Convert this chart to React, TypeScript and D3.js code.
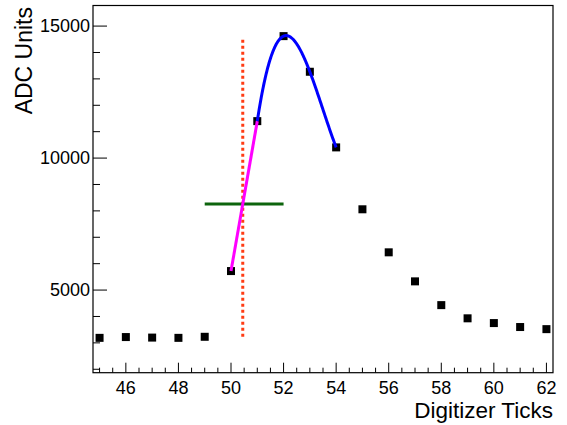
import React from "react";
import * as d3 from "d3";

const ticks = [45, 46, 47, 48, 49, 50, 51, 52, 53, 54, 55, 56, 57, 58, 59, 60, 61, 62];
const adc = [3190, 3220, 3200, 3190, 3230, 5720, 11400, 14620, 13270, 10405, 8060, 6430, 5330, 4430, 3930, 3750, 3600, 3520];
const fitTicks = [51, 52, 53, 54];
const riseTicks = [50, 51];
const halfLevel = 8260;
const halfSpan = [49, 52];
const markerLine = [3230, 14500];
const xTickLabels = [46, 48, 50, 52, 54, 56, 58, 60, 62];
const yTickLabels = [5000, 10000, 15000];

const W = 567, H = 425;
const L = 93, R = 553, T = 5.5, B = 372.7;
const FONT = "'Liberation Sans', Arial, Helvetica, sans-serif";

export default function App() {
  const x = d3.scaleLinear().domain([44.75, 62.25]).range([L, R]);
  const y = d3.scaleLinear().domain([1870, 15780]).range([B, T]);
  const val = (t: number) => adc[ticks.indexOf(t)];

  // cubic interpolation through fit points (Newton form)
  const fy = fitTicks.map(val);
  const d1 = [fy[1] - fy[0], fy[2] - fy[1], fy[3] - fy[2]];
  const d2 = [d1[1] - d1[0], d1[2] - d1[1]];
  const d3v = d2[1] - d2[0];
  const cubic = (xx: number) => {
    const t = xx - fitTicks[0];
    return fy[0] + d1[0] * t + (d2[0] / 2) * t * (t - 1) + (d3v / 6) * t * (t - 1) * (t - 2);
  };
  const fitPts: [number, number][] = d3.range(0, 301).map((i) => {
    const xx = fitTicks[0] + (i / 300) * (fitTicks[3] - fitTicks[0]);
    return [xx, cubic(xx)];
  });
  const line = d3.line<[number, number]>().x((d) => x(d[0])).y((d) => y(d[1])).curve(d3.curveLinear);

  const r0 = val(riseTicks[0]), r1 = val(riseTicks[1]);
  const crossX = riseTicks[0] + (halfLevel - r0) / (r1 - r0);

  const xMinor = d3.range(45, 62.01, 0.5);
  const yMinor = d3.range(2000, 15001, 1000);

  return (
    <svg width={W} height={H} style={{ position: "absolute", left: 0, top: 0, background: "#fff" }}>
      <rect x={0} y={0} width={W} height={H} fill="#fff" />
      {/* ticks */}
      {xMinor.map((v) => {
        const major = xTickLabels.includes(v);
        return <line key={"xt" + v} x1={x(v)} x2={x(v)} y1={B} y2={B - (major ? 10 : 5)} stroke="#000" strokeWidth={1} />;
      })}
      {yMinor.map((v) => {
        const major = yTickLabels.includes(v);
        return <line key={"yt" + v} x1={L} x2={L + (major ? 14 : 7)} y1={y(v)} y2={y(v)} stroke="#000" strokeWidth={1} />;
      })}
      {/* frame */}
      <rect x={L} y={T} width={R - L} height={B - T} fill="none" stroke="#000" strokeWidth={1.2} />
      {/* tick labels */}
      {xTickLabels.map((v) => (
        <text key={"xl" + v} x={x(v)} y={393.5} textAnchor="middle" fontFamily={FONT} fontSize={18} fill="#000">{v}</text>
      ))}
      {yTickLabels.map((v) => (
        <text key={"yl" + v} x={90} y={y(v) + 6.3} textAnchor="end" fontFamily={FONT} fontSize={18} fill="#000">{v}</text>
      ))}
      {/* axis titles */}
      <text x={R} y={418} textAnchor="end" fontFamily={FONT} fontSize={22.5} fill="#000">Digitizer Ticks</text>
      <text transform={`translate(31.5,7) rotate(-90)`} textAnchor="end" fontFamily={FONT} fontSize={23} fill="#000">ADC Units</text>
      {/* markers */}
      {ticks.map((t, i) => (
        <rect key={"m" + t} x={x(t) - 4} y={y(adc[i]) - 4} width={8} height={8} fill="#000" />
      ))}
      {/* red dotted vertical */}
      <line x1={x(crossX)} x2={x(crossX)} y1={y(markerLine[0])} y2={y(markerLine[1])} stroke="#ff3c14" strokeWidth={3} strokeDasharray="3,3" />
      {/* green half-level */}
      <line x1={x(halfSpan[0])} x2={x(halfSpan[1])} y1={y(halfLevel)} y2={y(halfLevel)} stroke="#0d640d" strokeWidth={3} />
      {/* magenta rise */}
      <line x1={x(riseTicks[0])} x2={x(riseTicks[1])} y1={y(r0)} y2={y(r1)} stroke="#ff00ff" strokeWidth={3} />
      {/* blue fit */}
      <path d={line(fitPts) || ""} fill="none" stroke="#0000ff" strokeWidth={3} />
    </svg>
  );
}
